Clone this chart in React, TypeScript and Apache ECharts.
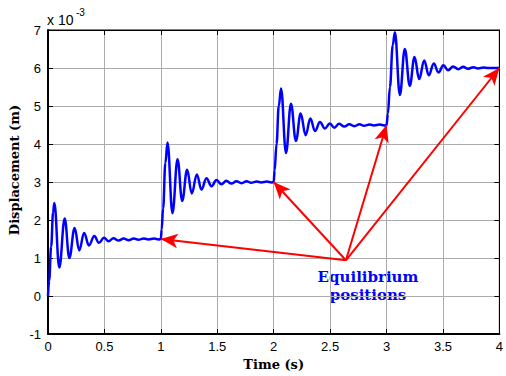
import React, { useEffect, useRef } from "react";
import * as echarts from "echarts";

// Time (s) and displacement (x 10^-3 m)
const timeS = [
  0, 0.01, 0.028, 0.045, 0.056, 0.1, 0.148, 0.189, 0.236, 0.277, 0.32, 0.363, 0.41, 0.451, 0.496, 0.537,
  0.58, 0.625, 0.67, 0.715, 0.76, 0.8, 0.85, 0.89, 0.94, 0.98, 1.0,
  1.007, 1.02, 1.04, 1.059, 1.103, 1.148, 1.189, 1.233, 1.274, 1.319, 1.36, 1.404, 1.449, 1.493, 1.537,
  1.58, 1.625, 1.67, 1.715, 1.76, 1.8, 1.85, 1.89, 1.94, 1.98, 2.0,
  2.008, 2.025, 2.045, 2.065, 2.109, 2.153, 2.197, 2.239, 2.283, 2.325, 2.366, 2.41, 2.454, 2.498, 2.537,
  2.58, 2.625, 2.67, 2.715, 2.76, 2.8, 2.85, 2.89, 2.94, 2.98, 3.0,
  3.012, 3.03, 3.055, 3.074, 3.118, 3.162, 3.206, 3.248, 3.289, 3.334, 3.374, 3.419, 3.46, 3.504, 3.546,
  3.59, 3.635, 3.68, 3.72, 3.77, 3.81, 3.86, 3.9, 4.0,
];
const displacement = [
  0, 0.4, 1.3, 2.2, 2.45, 0.75, 2.04, 1.0, 1.79, 1.2, 1.66, 1.33, 1.58, 1.4, 1.53, 1.44,
  1.52, 1.46, 1.51, 1.47, 1.51, 1.48, 1.51, 1.49, 1.51, 1.49, 1.5,
  1.75, 2.3, 3.5, 4.04, 2.18, 3.6, 2.5, 3.32, 2.7, 3.2, 2.8, 3.1, 2.89, 3.05, 2.94,
  3.03, 2.96, 3.02, 2.97, 3.02, 2.98, 3.01, 2.99, 3.01, 2.99, 3.0,
  3.3, 4.0, 5.0, 5.46, 3.76, 5.06, 4.08, 4.8, 4.23, 4.67, 4.34, 4.58, 4.41, 4.54, 4.43,
  4.53, 4.46, 4.52, 4.47, 4.52, 4.48, 4.51, 4.49, 4.51, 4.49, 4.5,
  4.8, 5.5, 6.6, 6.94, 5.29, 6.5, 5.53, 6.29, 5.71, 6.2, 5.81, 6.12, 5.88, 6.07, 5.94,
  6.04, 5.97, 6.03, 5.98, 6.02, 5.99, 6.01, 6.0, 6.0,
];

// Arrow annotation
const arrowOrigin = [2.64, 0.94];
const equilibriumTimes = [1, 2, 3, 4];
const equilibriumValues = [1.5, 3, 4.5, 6];

const xTicks = { min: 0, max: 4, interval: 0.5 };
const yTicks = { min: -1, max: 7, interval: 1 };

export default function App() {
  const ref = useRef<HTMLDivElement>(null);
  useEffect(() => {
    if (!ref.current) return;
    const chart = echarts.init(ref.current, null, { renderer: "svg" });
    const data = timeS.map((t, i) => [t, displacement[i]]);
    const arrows = equilibriumTimes.map((t, i) => [
      { coord: arrowOrigin },
      { coord: [t, equilibriumValues[i]] },
    ]);
    const labelFont = { fontFamily: "Liberation Sans", fontSize: 13, color: "#000" };
    const gridLine = { show: true, lineStyle: { color: "#ababab", width: 1, type: "solid" as const } };
    chart.setOption({
      animation: false,
      backgroundColor: "#fff",
      grid: { left: 48, right: 6, top: 30, bottom: 38, show: true, borderColor: "#000", borderWidth: 1 },
      xAxis: [
        {
          type: "value",
          ...xTicks,
          axisLine: { show: true, onZero: false, lineStyle: { color: "#000", width: 2 } },
          axisTick: { show: true, inside: true, length: 5, lineStyle: { color: "#000" } },
          axisLabel: { ...labelFont, margin: 6 },
          splitLine: gridLine,
          name: "Time (s)",
          nameLocation: "middle",
          nameGap: 24,
          nameTextStyle: { fontFamily: "DejaVu Serif", fontWeight: "bold", fontSize: 13, color: "#000" },
        },
        {
          type: "value",
          position: "top",
          ...xTicks,
          axisLine: { show: true, onZero: false, lineStyle: { color: "#000", width: 1 } },
          axisTick: { show: true, inside: true, length: 5, lineStyle: { color: "#000" } },
          axisLabel: { show: false },
          splitLine: { show: false },
        },
      ],
      yAxis: [
        {
          type: "value",
          ...yTicks,
          axisLine: { show: true, onZero: false, lineStyle: { color: "#000", width: 2 } },
          axisTick: { show: true, inside: true, length: 5, lineStyle: { color: "#000" } },
          axisLabel: { ...labelFont, margin: 7 },
          splitLine: gridLine,
        },
        {
          type: "value",
          position: "right",
          ...yTicks,
          axisLine: { show: true, onZero: false, lineStyle: { color: "#000", width: 1 } },
          axisTick: { show: true, inside: true, length: 5, lineStyle: { color: "#000" } },
          axisLabel: { show: false },
          splitLine: { show: false },
        },
      ],
      graphic: [
        {
          type: "text",
          x: 14,
          y: 170,
          rotation: Math.PI / 2,
          style: {
            text: "Displacement (m)",
            fontFamily: "DejaVu Serif",
            fontWeight: "bold",
            fontSize: 13,
            fill: "#000",
            align: "center",
            verticalAlign: "middle",
          },
        },
        {
          type: "text",
          x: 47,
          y: 20,
          style: {
            text: "x 10",
            fontFamily: "Liberation Sans",
            fontSize: 14,
            fill: "#000",
            align: "left",
            verticalAlign: "middle",
          },
        },
        {
          type: "text",
          x: 76,
          y: 12,
          style: {
            text: "-3",
            fontFamily: "Liberation Sans",
            fontSize: 10,
            fill: "#000",
            align: "left",
            verticalAlign: "middle",
          },
        },
        {
          type: "text",
          x: 368,
          y: 277,
          style: {
            text: "Equilibrium",
            fontFamily: "DejaVu Serif",
            fontWeight: "bold",
            fontSize: 15,
            fill: "#0000ff",
            align: "center",
            verticalAlign: "middle",
          },
        },
        {
          type: "text",
          x: 368,
          y: 295,
          style: {
            text: "positions",
            fontFamily: "DejaVu Serif",
            fontWeight: "bold",
            fontSize: 15,
            fill: "#0000ff",
            align: "center",
            verticalAlign: "middle",
          },
        },
      ],
      series: [
        {
          type: "line",
          data,
          showSymbol: false,
          smooth: 0.4,
          smoothMonotone: "x",
          lineStyle: { color: "#0000ff", width: 2.5 },
          z: 3,
          markLine: {
            silent: true,
            symbol: ["none", "arrow"],
            symbolSize: [11, 17],
            label: { show: false },
            lineStyle: { color: "#ff0000", width: 2, type: "solid" },
            data: arrows,
            z: 4,
          },
        },
      ],
    });
    return () => chart.dispose();
  }, []);
  return (
    <div
      ref={ref}
      style={{ position: "fixed", left: 0, top: 0, width: 506, height: 376, background: "#fff" }}
    />
  );
}
